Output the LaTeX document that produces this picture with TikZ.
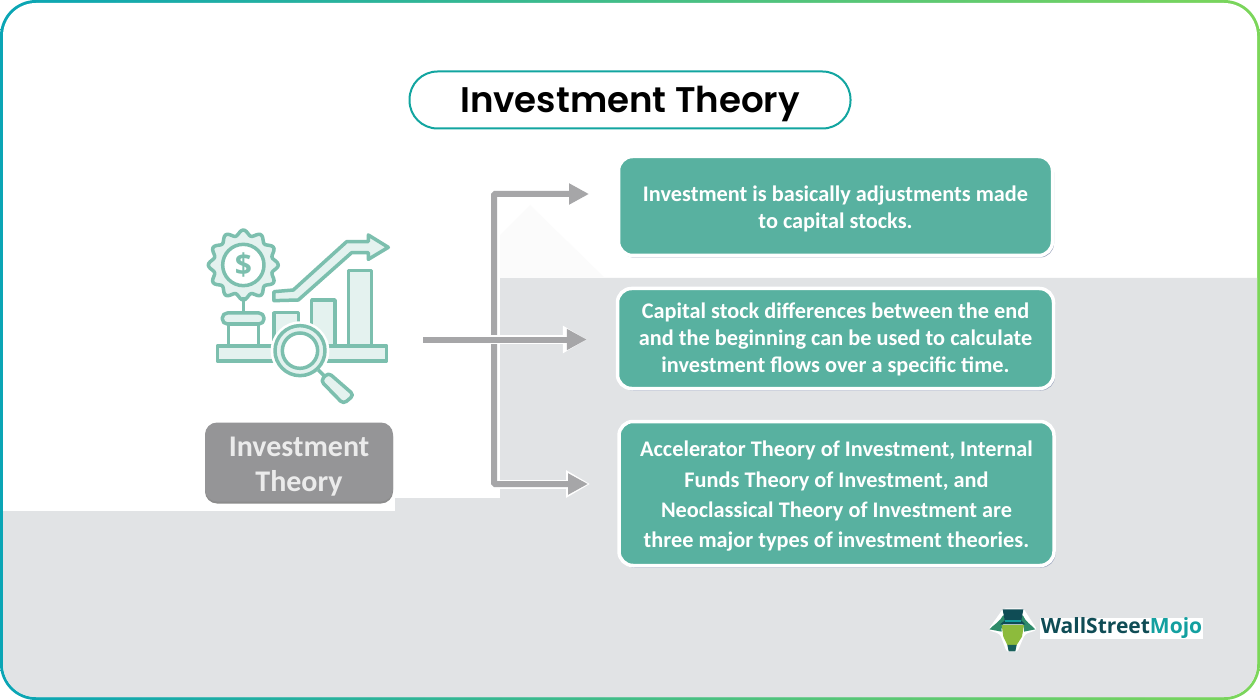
\documentclass[tikz,border=0pt]{standalone}
\usepackage{fontspec}
\usetikzlibrary{arrows.meta,shadows}
\setmainfont{Carlito}
\newfontfamily\titlefont{Poppins}[UprightFont=* SemiBold]
\newfontfamily\logofont{Open Sans}
\definecolor{tealb}{HTML}{0AA5B5}
\definecolor{greenb}{HTML}{7CD65A}
\definecolor{pillline}{HTML}{12A5A0}
\definecolor{greybg}{HTML}{E1E3E5}
\definecolor{boxteal}{HTML}{58B1A0}
\definecolor{boxshadow}{HTML}{9FA8C0}
\definecolor{arrowgrey}{HTML}{A6A6A8}
\definecolor{iconline}{HTML}{7CBFAE}
\definecolor{iconfill}{HTML}{E4F2EF}
\definecolor{logodark}{HTML}{0F4C55}
\definecolor{logoteal}{HTML}{13A0A0}
\definecolor{logolime}{HTML}{8DBB3C}
\definecolor{logomid}{HTML}{2E8B6A}
\tikzset{
  x=1pt,y=-1pt,
  infobox/.style={rounded corners=14pt,fill=boxteal,draw=white,line width=3.5pt,
    general shadow={shadow xshift=1.5pt,shadow yshift=-2pt,fill=boxshadow},
    text=white,align=center,inner sep=0pt,font=\bfseries\fontsize{22.3}{27}\selectfont},
  conn/.style={draw=arrowgrey,line width=6pt,rounded corners=1pt},
  tipped/.style={-{Triangle[length=20pt,width=20pt]}},
  halo/.style={preaction={draw=white,line width=9pt,-{Triangle[length=24pt,width=26pt]}}},
  iconpart/.style={draw=iconline,fill=iconfill,line width=3.5pt,line join=round},
  iconz/.style={shift={(190,220)},x=0.3333pt,y=-0.3333pt},
  logoz/.style={shift={(960,590)},x=0.3333pt,y=-0.3333pt},
}
\begin{document}
\begin{tikzpicture}
\useasboundingbox (0,0) rectangle (1260,700);
% border and backdrop
\shade[left color=tealb,right color=greenb,rounded corners=36pt] (0,0) rectangle (1260,700);
\fill[white,rounded corners=33pt] (3,3) rectangle (1257,697);
\begin{scope}
  \clip[rounded corners=33pt] (3,3) rectangle (1257,697);
  \fill[greybg] (0,511) -- (395,511) -- (395,498) -- (500,498) -- (500,278)
     -- (1260,278) -- (1260,700) -- (0,700) -- cycle;
\end{scope}
\fill[white!98.5!black] (530,205) -- (605,278) -- (500,278) -- (500,235) -- cycle;
% title
\node[draw=pillline,line width=2pt,fill=white,rounded corners=28pt,minimum width=441pt,
  minimum height=57pt,inner sep=0pt,font=\titlefont\fontsize{35.6}{40}\selectfont] (title) at (630,100) {\rule{0pt}{35pt}Investment Theory};
% info boxes
\node[infobox,minimum width=434pt,minimum height=99pt] (b1) at (835.5,206)
  {\rule{0pt}{22.5pt}Investment is basically adjustments made\\to capital stocks.};
\node[infobox,minimum width=436pt,minimum height=100pt] (b2) at (835.5,338.5)
  {\rule{0pt}{17.5pt}Capital stock differences between the end\\and the beginning can be used to calculate\\investment flows over a specific time.};
\node[infobox,minimum width=435pt,minimum height=144pt,font=\bfseries\fontsize{22.3}{30.4}\selectfont] (b3) at (836.5,493.5)
  {\rule{0pt}{21.5pt}Accelerator Theory of Investment, Internal\\Funds Theory of Investment, and\\Neoclassical Theory of Investment are\\three major types of investment theories.};
% grey label
\node[rounded corners=12pt,fill=arrowgrey!90!black,
  general shadow={shadow xshift=0pt,shadow yshift=-2pt,fill=black!45},
  minimum width=188pt,minimum height=79pt,inner sep=0pt,align=center,text=white!92!black,
  font=\bfseries\fontsize{30}{35}\selectfont] (label) at (299,462) {\rule{0pt}{28pt}Investment\\Theory};
% connectors
\coordinate (src) at (423,339.5);
\coordinate (e1) at (589,194);
\coordinate (c1) at (494,194);
\coordinate (c3) at (494,484);
\coordinate (e3) at (588,484);
\draw[white,line width=9pt,-{Triangle[length=24pt,width=26pt]}] (500,484) -- (590,484);
\draw[conn,{Triangle[length=20pt,width=20pt]}-{Triangle[length=20pt,width=20pt]}] (e1) -- (c1) -- (c3) -- (e3);
\draw[conn,tipped,halo,shorten >=29pt] (src) -- (src -| b2.west);
\draw[conn] (src) -- (c1 |- src);
% icon
\begin{scope}[iconz]
  \draw[iconpart] plot[domain=0:356,samples=120,smooth] ({160+(97+8*cos(12*\x))*cos(\x)},{135+(97+8*cos(12*\x))*sin(\x)}) -- cycle;
  \draw[iconpart,fill=white] (160,135) circle (62);
  \node[text=iconline,font=\logofont\bfseries\fontsize{30}{30}\selectfont] (dollar) at (160,135) {\$};
  \draw[iconline,line width=3.5pt] (160,232) -- (160,280);
  \draw[iconpart,fill=white] (115,312) rectangle (205,378);
  \draw[iconpart,rounded corners=5pt] (97,279) rectangle (222,312);
  \draw[iconpart] (252,278) rectangle (325,378);
  \draw[iconpart] (365,240) rectangle (435,378);
  \draw[iconpart] (475,152) rectangle (545,378);
  \draw[iconpart] (82,378) rectangle (590,423);
  \draw[iconpart] (252,215) -- (310,210) -- (470,65) -- (535,65) -- (535,45) -- (595,82)
     -- (535,118) -- (535,98) -- (485,98) -- (325,240) -- (252,242) -- cycle;
  \fill[white] (330,392) circle (88);
  \draw[iconline,line width=3.5pt] (385,450) -- (405,470);
  \draw[iconpart,rounded corners=4pt] (415,458) -- (492,525) -- (460,552) -- (392,482) -- cycle;
  \draw[iconpart] (330,392) circle (75);
  \draw[iconpart,fill=white] (330,392) circle (53);
\end{scope}
% logo
\begin{scope}[logoz]
  \fill[white,rounded corners=3pt] (84,120) -- (130,55) -- (190,55) -- (232,120) -- (195,132) -- (172,186) -- (140,186) -- (120,132) -- cycle;
  \fill[logomid] (88,118) .. controls (100,105) and (120,95) .. (130,75) -- (136,90) .. controls (128,105) and (122,115) .. (125,125) -- cycle;
  \fill[logomid] (226,118) .. controls (214,105) and (196,95) .. (188,75) -- (182,90) .. controls (190,105) and (194,115) .. (192,125) -- cycle;
  \fill[logodark] (128,58) -- (190,58) -- (184,92) -- (196,103) -- (120,103) -- (134,92) -- cycle;
  \fill[logoteal] (135,90) rectangle (183,97);
  \fill[logolime] (125,105) -- (192,105) -- (186,140) -- (170,165) -- (142,165) -- (130,140) -- cycle;
  \fill[logodark!70!logomid] (142,165) -- (170,165) -- (166,184) -- (146,184) -- cycle;
\end{scope}
\node[fill=white,inner xsep=0.5pt,inner ysep=0pt,font=\logofont\bfseries\fontsize{21}{21}\selectfont,text=logodark] (logo) at (1121.5,628.5)
  {WallStreet\textcolor{logoteal}{Mojo}};
\end{tikzpicture}
\end{document}
